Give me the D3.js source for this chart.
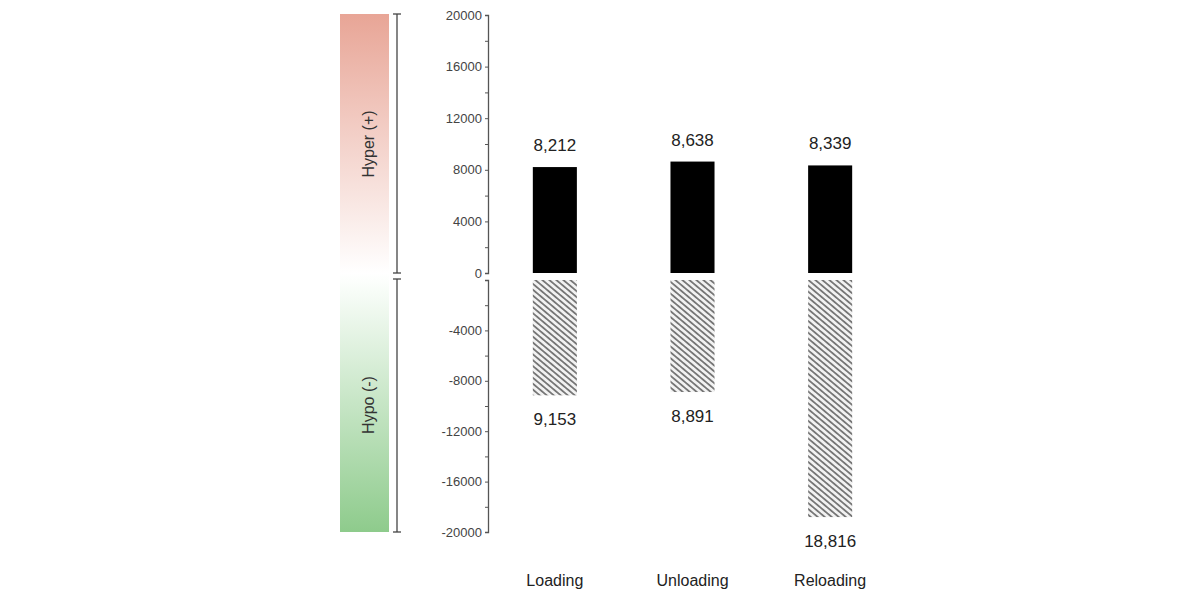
<!DOCTYPE html>
<html lang="en">
<head>
<meta charset="UTF-8" />
<script src="https://cdn.jsdelivr.net/npm/d3@7"></script>
<style>
  body { margin: 0; background: #fff; }
  text { font-family: "Helvetica Neue", "Liberation Sans", Arial, sans-serif; }
</style>
</head>
<body>
<svg id="chart" width="1200" height="600"></svg>
<script>
  // data
  const categories = ['Loading', 'Unloading', 'Reloading'],
    hyper = [8212, 8638, 8339],
    hypo = [9153, 8891, 18816],
    ticksPos = [0, 4000, 8000, 12000, 16000, 20000],
    ticksNeg = [-4000, -8000, -12000, -16000, -20000];

  const svg = d3.select('#chart'),
    fmt = d3.format(',');

  const yTop = d3.scaleLinear().domain([0, 20000]).range([273, 15]),
    yBot = d3.scaleLinear().domain([0, -20000]).range([280, 532]),
    x = d3.scaleBand().domain(categories).range([464, 921]).paddingInner(0.68).paddingOuter(0.5);

  const defs = svg.append('defs');
  const grad = defs.append('linearGradient').attr('id', 'grad').attr('x1', 0).attr('y1', 0).attr('x2', 0).attr('y2', 1);
  [[0, '#e8a596'], [0.5, '#ffffff'], [0.52, '#fbfefb'], [1, '#8ecb8c']].forEach(([o, c]) =>
    grad.append('stop').attr('offset', o).attr('stop-color', c));
  const pat = defs.append('pattern').attr('id', 'hatch').attr('patternUnits', 'userSpaceOnUse')
    .attr('width', 4.5).attr('height', 4.5).attr('patternTransform', 'rotate(40)');
  pat.append('rect').attr('width', 4.5).attr('height', 4.5).attr('fill', '#f2f2f2');
  pat.append('rect').attr('width', 4.5).attr('height', 1.8).attr('fill', '#777');

  // gradient band + bracket
  svg.append('rect').attr('x', 340).attr('y', 14).attr('width', 49).attr('height', 518).attr('fill', 'url(#grad)');
  const br = svg.append('g').attr('stroke', '#444').attr('stroke-width', 1.3);
  br.append('line').attr('x1', 397).attr('x2', 397).attr('y1', 14).attr('y2', 273);
  br.append('line').attr('x1', 397).attr('x2', 397).attr('y1', 279).attr('y2', 532);
  [14, 273, 279, 532].forEach(y => br.append('line').attr('x1', 393).attr('x2', 401).attr('y1', y).attr('y2', y));
  svg.append('text').attr('transform', 'translate(374,144) rotate(-90)').attr('text-anchor', 'middle')
    .attr('font-size', 16).attr('fill', '#333').text('Hyper (+)');
  svg.append('text').attr('transform', 'translate(374,405) rotate(-90)').attr('text-anchor', 'middle')
    .attr('font-size', 16).attr('fill', '#333').text('Hypo (-)');

  // axes
  function axis(scale, ticks, sign) {
    const g = svg.append('g').attr('transform', 'translate(488,0)')
      .call(d3.axisLeft(scale).tickValues(d3.range(0, 20001, 2000).map(v => sign * v))
        .tickSize(3).tickFormat(d => ticks.includes(d) ? d : ''));
    g.select('.domain').attr('stroke', '#555').attr('stroke-width', 1.3);
    g.selectAll('.tick line').attr('stroke', '#555');
    g.selectAll('.tick text').attr('font-size', 13).attr('fill', '#444')
      .attr('font-family', '"Helvetica Neue", "Liberation Sans", Arial, sans-serif');
  }
  axis(yTop, ticksPos, 1);
  axis(yBot, ticksNeg, -1);

  // bars
  svg.selectAll('.pos').data(categories).join('rect')
    .attr('x', d => x(d)).attr('width', x.bandwidth())
    .attr('y', (d, i) => yTop(hyper[i])).attr('height', (d, i) => yTop(0) - yTop(hyper[i]))
    .attr('fill', '#000');
  svg.selectAll('.neg').data(categories).join('rect')
    .attr('x', d => x(d)).attr('width', x.bandwidth())
    .attr('y', yBot(0)).attr('height', (d, i) => yBot(-hypo[i]) - yBot(0))
    .attr('fill', 'url(#hatch)');

  // labels
  svg.selectAll('.lp').data(categories).join('text')
    .attr('x', d => x(d) + x.bandwidth() / 2).attr('y', (d, i) => yTop(hyper[i]) - 16)
    .attr('text-anchor', 'middle').attr('font-size', 17).attr('fill', '#222').text((d, i) => fmt(hyper[i]));
  svg.selectAll('.ln').data(categories).join('text')
    .attr('x', d => x(d) + x.bandwidth() / 2).attr('y', (d, i) => yBot(-hypo[i]) + 30)
    .attr('text-anchor', 'middle').attr('font-size', 17).attr('fill', '#222').text((d, i) => fmt(hypo[i]));
  svg.selectAll('.cat').data(categories).join('text')
    .attr('x', d => x(d) + x.bandwidth() / 2).attr('y', 586)
    .attr('text-anchor', 'middle').attr('font-size', 16).attr('fill', '#222').text(d => d);
</script>
</body>
</html>
